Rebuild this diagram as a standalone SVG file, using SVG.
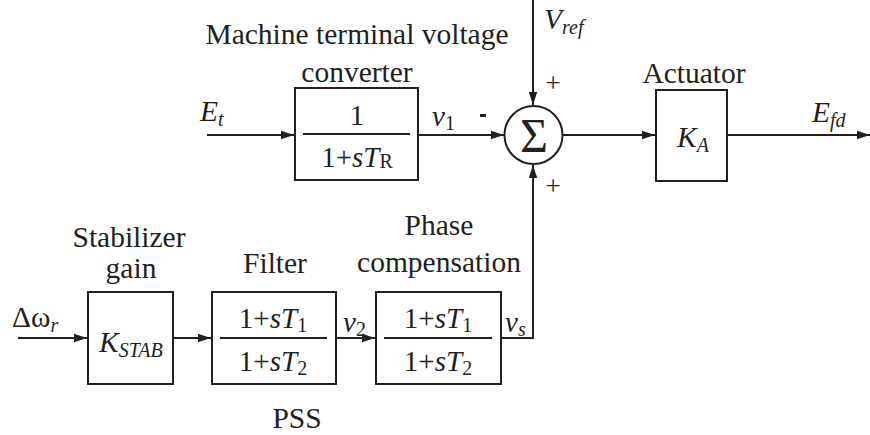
<svg xmlns="http://www.w3.org/2000/svg" width="870" height="435" viewBox="0 0 870 435">
<style>
.lbl{font-size:29.5px;text-anchor:middle;}
.fr{font-size:29px;text-anchor:middle;}
.it{font-style:italic;}
.box{fill:#fff;stroke:#231f20;stroke-width:2;}
.ln{fill:none;stroke:#231f20;stroke-width:2;}
.fl{fill:none;stroke:#231f20;stroke-width:1.8;}
</style>
<defs>
<marker id="ah" markerWidth="14" markerHeight="10" refX="13" refY="5" orient="auto" markerUnits="userSpaceOnUse">
<path d="M0,0.8 L13,5 L0,9.2 Z" fill="#231f20"/>
</marker>
</defs>
<rect width="870" height="435" fill="#fff"/>

<g id="connectors">
<path class="ln" d="M207,135 L294,135" marker-end="url(#ah)"/>
<path class="ln" d="M418,135 L504,135" marker-end="url(#ah)"/>
<path class="ln" d="M533,0 L533,105" marker-end="url(#ah)"/>
<path class="ln" d="M501,338 L533,338 L533,165" marker-end="url(#ah)"/>
<path class="ln" d="M562,135 L655,135" marker-end="url(#ah)"/>
<path class="ln" d="M727,135 L870,135" marker-end="url(#ah)"/>
<path class="ln" d="M18,338 L87,338" marker-end="url(#ah)"/>
<path class="ln" d="M173,338 L211,338" marker-end="url(#ah)"/>
<path class="ln" d="M336,338 L375,338" marker-end="url(#ah)"/>
</g>

<g font-family="'Liberation Serif', 'Times New Roman', serif" fill="#231f20">
<g id="labels-signals">
<text x="200" y="121" font-size="29.5" class="it">E<tspan font-size="20" dy="5">t</tspan></text>
<text x="432" y="126" font-size="29" class="it">v<tspan font-size="20" dy="4" font-style="normal">1</tspan></text>
<rect x="480" y="114" width="6" height="3" fill="#231f20"/>
<text x="544" y="29" font-size="29.5" class="it">V<tspan font-size="20" dy="5">ref</tspan></text>
<text x="553" y="92" font-size="27" text-anchor="middle">+</text>
<text x="553" y="195" font-size="27" text-anchor="middle">+</text>
<text x="812" y="122" font-size="29.5" class="it">E<tspan font-size="20" dy="5">fd</tspan></text>
<text x="12" y="327" font-size="29.5">Δω<tspan font-size="20" dy="5" class="it">r</tspan></text>
<text x="343" y="332" font-size="29" class="it">v<tspan font-size="20" dy="4" font-style="normal">2</tspan></text>
<text x="505" y="332" font-size="29" class="it">v<tspan font-size="20" dy="4">s</tspan></text>
<text x="297" y="428" class="lbl">PSS</text>
</g>

<g id="tr-block">
<text x="357" y="44" class="lbl">Machine terminal voltage</text>
<text x="357" y="82" class="lbl">converter</text>
<rect class="box" x="295" y="88" width="123" height="92"/>
<line class="fl" x1="303" y1="134" x2="410" y2="134"/>
<text x="357" y="125" class="fr">1</text>
<text x="357" y="167" class="fr">1+<tspan class="it">sT</tspan><tspan font-size="20" dy="1">R</tspan></text>
</g>

<g id="sum">
<circle class="ln" cx="533.5" cy="135" r="29" fill="#fff"/>
<text x="534" y="152" font-size="48" text-anchor="middle">Σ</text>
</g>

<g id="actuator">
<text x="694" y="83" class="lbl">Actuator</text>
<rect class="box" x="656" y="90" width="71" height="91"/>
<text x="677" y="147" font-size="29.5" class="it">K<tspan font-size="20" dy="5">A</tspan></text>
</g>

<g id="stab-gain">
<text x="129" y="247" class="lbl">Stabilizer</text>
<text x="131" y="278" class="lbl">gain</text>
<rect class="box" x="88" y="292" width="85" height="92"/>
<text x="99" y="352" font-size="29.5" class="it">K<tspan font-size="20" dy="5">STAB</tspan></text>
</g>

<g id="filter">
<text x="275" y="273" class="lbl">Filter</text>
<rect class="box" x="212" y="292" width="124" height="92"/>
<line class="fl" x1="220" y1="338" x2="327" y2="338"/>
<text x="273" y="328" class="fr">1+<tspan class="it">sT</tspan><tspan font-size="20" dy="4">1</tspan></text>
<text x="273" y="371" class="fr">1+<tspan class="it">sT</tspan><tspan font-size="20" dy="4">2</tspan></text>
</g>

<g id="phase-comp">
<text x="439" y="235" class="lbl">Phase</text>
<text x="439" y="272" class="lbl">compensation</text>
<rect class="box" x="376" y="292" width="125" height="92"/>
<line class="fl" x1="384" y1="338" x2="492" y2="338"/>
<text x="438" y="328" class="fr">1+<tspan class="it">sT</tspan><tspan font-size="20" dy="4">1</tspan></text>
<text x="438" y="371" class="fr">1+<tspan class="it">sT</tspan><tspan font-size="20" dy="4">2</tspan></text>
</g>
</g>
</svg>
